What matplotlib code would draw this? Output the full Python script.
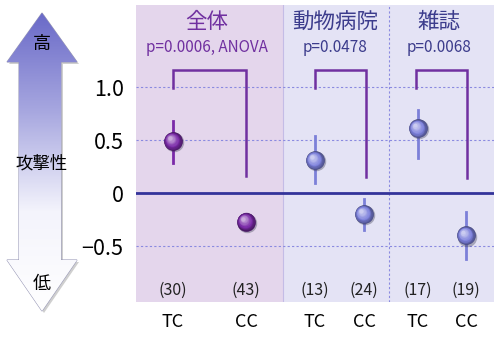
import numpy as np
import matplotlib.pyplot as plt
from matplotlib.patches import Polygon
from matplotlib.colors import LinearSegmentedColormap, to_rgb
import matplotlib.transforms as mtransforms

plt.rcParams['font.family'] = ['Noto Sans CJK JP', 'DejaVu Sans']

# groups and their stats
groups = ["全体", "動物病院", "雑誌"]
pvals = ["p=0.0006, ANOVA", "p=0.0478", "p=0.0068"]
labels = ["TC", "CC", "TC", "CC", "TC", "CC"]
counts = ["(30)", "(43)", "(13)", "(24)", "(17)", "(19)"]
means = [0.49, -0.27, 0.31, -0.20, 0.61, -0.40]
err_lo = [0.28, -0.34, 0.09, -0.35, 0.33, -0.62]
err_hi = [0.68, -0.20, 0.54, -0.06, 0.78, -0.18]
# bracket leg ends (left, right) per group
br_top = 1.16
br_left = [0.99, 0.99, 0.99]
br_right = [0.16, 0.15, 0.14]

# layout along x
xpos = [37, 110, 179, 228, 282, 330]
br_x = [(37, 110), (179, 230), (280, 331)]
panel_edges = [0, 147, 253, 358]
title_x = [71, 199, 303]
yticks = [1.0, 0.5, 0, -0.5]
ytick_labels = ["1.0", "0.5", "0", "\u22120.5"]

purple = "#7030a0"
navy = "#3c3c8c"
ball_cols = ["#7a2aa8", "#7a2aa8", "#7c80dc", "#7c80dc", "#7c80dc", "#7c80dc"]
bar_cols = ["#7a2aa8", "#7a2aa8", "#7c80d8", "#7c80d8", "#7c80d8", "#7c80d8"]
title_cols = [purple, navy, navy]
bg_cols = ["#e4d6ec", "#e4e3f5", "#e4e3f5"]

fig = plt.figure(figsize=(4.94, 3.38), dpi=100)
ax = fig.add_axes([136 / 494, 36 / 338, 358 / 494, 297 / 338])
ax.set_xlim(0, 358)
ax.set_ylim(-1.028, 1.774)

for i in range(3):
    ax.axvspan(panel_edges[i], panel_edges[i + 1], color=bg_cols[i], zorder=0, lw=0)
ax.axvline(panel_edges[1], color="#c4bce6", lw=0.8, zorder=1)
ax.axvline(panel_edges[2], color="#8a8ae0", lw=0.8, ls=(0, (2, 2)), zorder=1)

for v in [1.0, 0.5, -0.5]:
    ax.axhline(v, color="#8a8ae0", lw=0.8, ls=(0, (2, 2)), zorder=1)
ax.axhline(0, color="#33339a", lw=2, zorder=2)

# brackets
for i in range(3):
    x0, x1 = br_x[i]
    ax.plot([x0, x0, x1, x1], [br_left[i], br_top, br_top, br_right[i]],
            color=purple, lw=1.8, zorder=3, solid_joinstyle="miter")

# error bars and shaded balls
for i in range(6):
    ax.plot([xpos[i], xpos[i]], [err_lo[i], err_hi[i]], color=bar_cols[i], lw=2, zorder=4)
    base = np.array(to_rgb(ball_cols[i]))
    edge = base * 0.6
    light = base + (1 - base) * 0.6
    shadow = mtransforms.offset_copy(ax.transData, fig=fig, x=0.6, y=-0.8, units="points")
    ax.plot(xpos[i], means[i], "o", ms=14, color=(0.2, 0.2, 0.3), alpha=0.35, mec="none",
            transform=shadow, zorder=4.5)
    n = 12
    for k in range(n):
        t = k / (n - 1)
        if t < 0.35:
            s = t / 0.35
            col = edge * (1 - s) + base * s
        else:
            s = (t - 0.35) / 0.65
            col = base * (1 - s) + light * s
        size = 13.5 * (1 - 0.8 * t)
        off = mtransforms.offset_copy(ax.transData, fig=fig, x=-2.2 * t, y=2.2 * t, units="points")
        ax.plot(xpos[i], means[i], "o", ms=size, color=np.clip(col, 0, 1), mec="none",
                transform=off, zorder=5 + k * 0.01)

# titles and counts
for i in range(3):
    ax.text(title_x[i], 1.61, groups[i], color=title_cols[i], fontsize=15.5,
            ha="center", va="center", zorder=6)
    ax.text(title_x[i], 1.37, pvals[i], color=title_cols[i], fontsize=11,
            ha="center", va="center", zorder=6)
for i in range(6):
    ax.text(xpos[i], -0.92, counts[i], fontsize=11.5, ha="center", va="center",
            color="#222222", zorder=6)

ax.set_xticks(xpos)
ax.set_xticklabels(labels, fontsize=13)
ax.set_yticks(yticks)
ax.set_yticklabels(ytick_labels, fontsize=15.5)
ax.tick_params(length=0, pad=9)
ax.tick_params(axis="x", pad=8)
for s in ax.spines.values():
    s.set_visible(False)

# gradient double arrow on the left
ax2 = fig.add_axes([0, 0, 1, 1], zorder=-1)
ax2.set_xlim(0, 494)
ax2.set_ylim(338, 0)
ax2.axis("off")
arrow_pts = [(42, 13), (77, 62), (61, 62), (61, 260), (77, 260), (42, 311),
             (7, 260), (19, 260), (19, 62), (7, 62)]
shade = Polygon([(x + 2, y + 2) for x, y in arrow_pts], closed=True,
                facecolor="#b0b0b0", edgecolor="none", alpha=0.6)
ax2.add_patch(shade)
arrow = Polygon(arrow_pts, closed=True, facecolor="none", edgecolor="#9a9ab8", lw=0.8)
ax2.add_patch(arrow)
cmap = LinearSegmentedColormap.from_list("arr", ["#6a6ac8", "#a8a8e0", "#f4f4fc", "#ffffff"])
grad = np.linspace(0, 1, 256).reshape(-1, 1)
im = ax2.imshow(grad, cmap=cmap, extent=[7, 77, 311, 13], aspect="auto", zorder=1)
im.set_clip_path(arrow)
ax2.text(42, 44, "高", fontsize=13, ha="center", va="center", zorder=3)
ax2.text(42, 163, "攻撃性", fontsize=12.5, ha="center", va="center", zorder=3)
ax2.text(42, 284, "低", fontsize=13, ha="center", va="center", zorder=3)

fig.savefig("out.png", dpi=100)
